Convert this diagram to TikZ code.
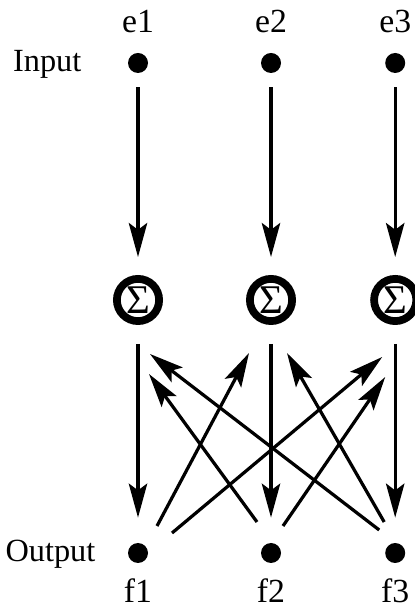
\documentclass[tikz,border=0pt]{standalone}
\usepackage{fontspec}
\setmainfont{Liberation Serif}
\usetikzlibrary{arrows.meta}

\begin{document}
\begin{tikzpicture}[x=1cm, y=1cm, line width=2.3pt,
    dot/.style={circle, fill=black, minimum size=0.5cm, inner sep=0pt, outer sep=0pt},
    summer/.style={circle, draw=black, line width=5.5pt, minimum size=1.056cm,
      inner sep=0pt, font=\fontsize{29}{32}\selectfont},
    lbl/.style={font=\fontsize{24}{28}\selectfont, anchor=base, inner sep=0pt},
    link/.style={-{Stealth[length=0.85cm, width=0.46cm, inset=0.17cm]}}]

  \useasboundingbox (0,0) rectangle (10.375,15.25);

  % -- input row ------------------------------------------------------------
  \node[dot] (e1) at (3.45,13.675) {};
  \node[dot] (e2) at (6.775,13.675) {};
  \node[dot] (e3) at (9.88,13.675) {};
  \node[lbl] (le1) at (3.45,14.425) {e1};
  \node[lbl] (le2) at (6.775,14.425) {e2};
  \node[lbl] (le3) at (9.88,14.425) {e3};
  \node[lbl, anchor=base east, font=\fontsize{23}{27}\selectfont] (input) at (2.075,13.45) {Input};

  % -- summing units --------------------------------------------------------
  \node[summer] (s1) at (3.45,7.75) {Σ};
  \node[summer] (s2) at (6.775,7.75) {Σ};
  \node[summer] (s3) at (9.88,7.75) {Σ};

  % -- output row -----------------------------------------------------------
  \node[dot] (f1) at (3.45,1.425) {};
  \node[dot] (f2) at (6.775,1.425) {};
  \node[dot] (f3) at (9.88,1.425) {};
  \node[lbl] (lf1) at (3.45,0.2) {f1};
  \node[lbl] (lf2) at (6.775,0.2) {f2};
  \node[lbl] (lf3) at (9.88,0.2) {f3};
  \node[lbl, anchor=base east, font=\fontsize{23}{27}\selectfont] (output) at (2.425,1.2) {Output};

  % -- straight links -------------------------------------------------------
  \foreach \i in {1,2,3} {
    \draw[link, shorten <=0.36cm, shorten >=0.45cm] (e\i) -- (s\i);
    \draw[link, shorten <=0.475cm, shorten >=0.635cm] (s\i) -- (f\i);
  }

  % -- feedback from each output to the other two units ---------------------
  \draw[link] ([shift={(0.475,0.675)}]f1.center) -- ([shift={(-0.55,-1.325)}]s2.center);
  \draw[link] ([shift={(0.85,0.5)}]f1.center) -- ([shift={(-0.325,-1.425)}]s3.center);
  \draw[link] ([shift={(-0.35,0.775)}]f2.center) -- ([shift={(0.275,-1.85)}]s1.center);
  \draw[link] ([shift={(0.3,0.675)}]f2.center) -- ([shift={(-0.25,-1.925)}]s3.center);
  \draw[link] ([shift={(-0.275,0.775)}]f3.center) -- ([shift={(0.4,-1.325)}]s2.center);
  \draw[link] ([shift={(-0.4,0.575)}]f3.center) -- ([shift={(0.3,-1.35)}]s1.center);

\end{tikzpicture}
\end{document}
